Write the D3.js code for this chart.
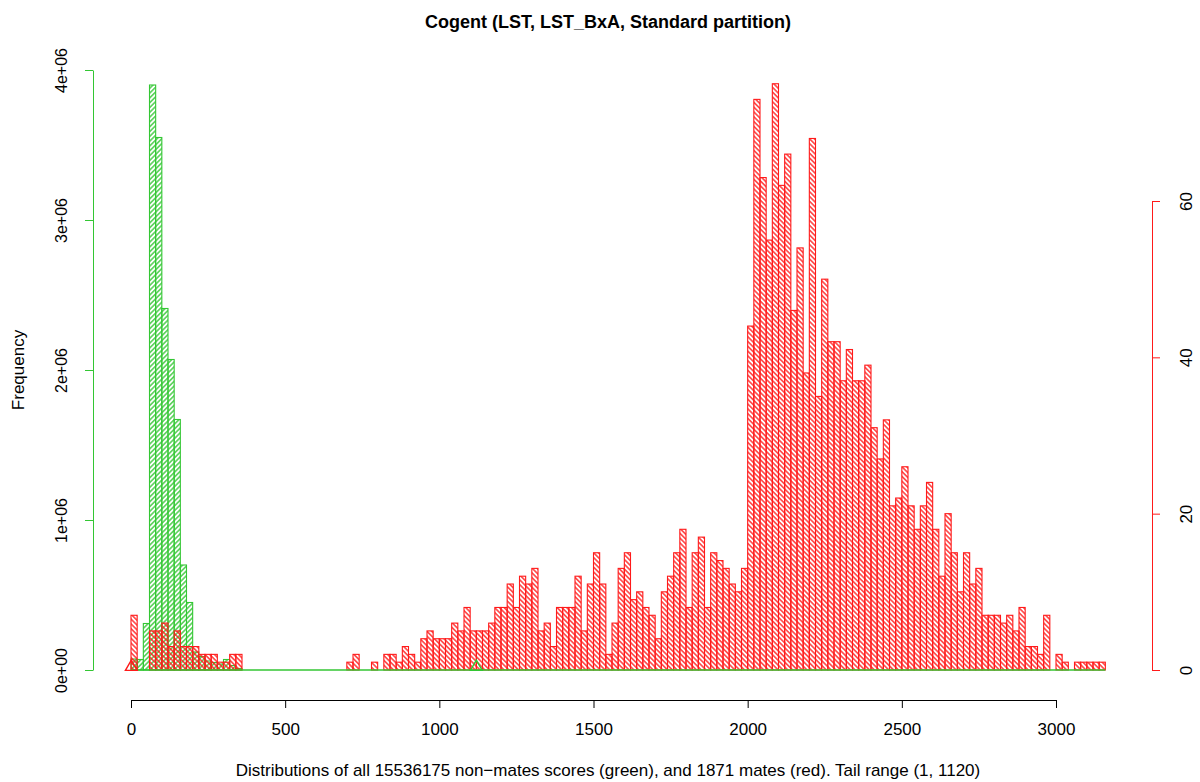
<!DOCTYPE html>
<html><head><meta charset="utf-8">
<script src="https://cdn.jsdelivr.net/npm/d3@7"></script>
<style>
body{margin:0;background:#fff}
text{font-family:"Liberation Sans",Arial,Helvetica,sans-serif}
</style>
</head><body>
<svg id="chart" width="1200" height="782"></svg>
<script>
// ---- data ----
const binWidth = 20;
// non-mates (green), counts per 20-unit bin starting at 0
const greenCounts = [73000, 70000, 310000, 3900000, 3550000, 2410000, 2070000, 1670000, 700000, 450000,
  120000, 90000, 60000, 50000, 40000, 70000, 30000, 10000];
const greenRangeMax = 3160;
// mates (red), counts per 20-unit bin starting at 0
const redCounts = [
  7,0,0,5,5,6,3,5,3,3,
  3,2,2,2,1,1,2,2,0,0,
  0,0,0,0,0,0,0,0,0,0,
  0,0,0,0,0,1,2,0,0,1,
  0,2,2,1,3,2,1,4,5,4,
  4,4,6,5,8,5,5,5,6,8,
  8,11,8,12,11,13,5,6,3,8,
  8,8,12,5,11,15,11,2,6,13,
  15,9,10,8,7,4,10,12,15,18,
  8,15,17,8,15,14,13,11,10,13,
  44,73,63,55,75,62,66,46,54,38,
  68,35,50,42,42,37,41,37,37,39,
  31,27,32,21,22,26,21,18,21,24,
  18,12,20,15,10,15,11,13,7,7,
  7,6,7,5,8,3,3,2,7,0,
  2,1,0,1,1,1,1,1];
const xTicks = [0, 500, 1000, 1500, 2000, 2500, 3000];
const leftTicks = [0, 1e6, 2e6, 3e6, 4e6];
const leftTickLabels = ["0e+00", "1e+06", "2e+06", "3e+06", "4e+06"];
const rightTicks = [0, 20, 40, 60];
const redTailMark = [1];
const greenTailMark = [1120];
const title = "Cogent (LST, LST_BxA, Standard partition)";
const xLabel = "Distributions of all 15536175 non\u2212mates scores (green), and 1871 mates (red). Tail range (1, 1120)";
const yLabel = "Frequency";

// ---- drawing ----
const RED = "#ff1a1a", GREEN = "#33c633";
const FS = 17;
const svg = d3.select("#chart");
const x = d3.scaleLinear().domain([0, 3000]).range([131, 1056]);
const yL = d3.scaleLinear().domain([0, 4e6]).range([670, 70]);
const yR = d3.scaleLinear().domain([0, 60]).range([670, 201]);

const defs = svg.append("defs");
function hatch(id, color, angle) {
  const p = defs.append("pattern").attr("id", id).attr("patternUnits", "userSpaceOnUse")
    .attr("width", 3.4).attr("height", 3.4).attr("patternTransform", `rotate(${angle})`);
  p.append("line").attr("x1", 0).attr("x2", 3.4).attr("y1", 1.7).attr("y2", 1.7)
    .attr("stroke", color).attr("stroke-width", 1.3);
}
hatch("hRed", RED, 45);
hatch("hGreen", GREEN, -45);

const greenBins = greenCounts.map((c, i) => ({x0: i * binWidth, x1: (i + 1) * binWidth, c}));
const redBins = redCounts.map((c, i) => ({x0: i * binWidth, x1: (i + 1) * binWidth, c}));

svg.append("g").selectAll("rect").data(greenBins.filter(d => yL(0) - yL(d.c) > 0.8)).join("rect")
  .attr("x", d => x(d.x0)).attr("width", d => x(d.x1) - x(d.x0))
  .attr("y", d => yL(d.c)).attr("height", d => yL(0) - yL(d.c))
  .attr("fill", "url(#hGreen)").attr("stroke", GREEN).attr("stroke-width", 1.1);

svg.append("g").selectAll("rect").data(redBins.filter(d => d.c > 0)).join("rect")
  .attr("x", d => x(d.x0)).attr("width", d => x(d.x1) - x(d.x0))
  .attr("y", d => yR(d.c)).attr("height", d => yR(0) - yR(d.c))
  .attr("fill", "url(#hRed)").attr("stroke", RED).attr("stroke-width", 1.1);

// baseline of green histogram (zero bins)
svg.append("line").attr("x1", x(0)).attr("x2", x(greenRangeMax)).attr("y1", yL(0)).attr("y2", yL(0))
  .attr("stroke", GREEN).attr("stroke-width", 1.5);

// tail markers (open triangles)
const tri = d3.symbol().type(d3.symbolTriangle).size(60);
svg.append("g").selectAll("path").data(redTailMark).join("path")
  .attr("d", tri).attr("transform", d => `translate(${x(d)},${yL(0) - 3})`)
  .attr("fill", "none").attr("stroke", RED).attr("stroke-width", 1.4);
svg.append("g").selectAll("path").data(greenTailMark).join("path")
  .attr("d", tri).attr("transform", d => `translate(${x(d)},${yL(0) - 3})`)
  .attr("fill", "none").attr("stroke", GREEN).attr("stroke-width", 1.4);

// x axis
const gx = svg.append("g").attr("transform", "translate(0,700)")
  .call(d3.axisBottom(x).tickValues(xTicks).tickSize(8).tickSizeOuter(0).tickFormat(d3.format("d")));
gx.select(".domain").attr("stroke", "#000");
gx.selectAll(".tick line").attr("stroke", "#000");
gx.selectAll(".tick text").attr("font-size", FS).attr("fill", "#000").attr("y", 23).attr("dy", "0.71em")
  .style("font-family", "'Liberation Sans',Arial,sans-serif");

// left axis
const gl = svg.append("g").attr("transform", "translate(93,0)")
  .call(d3.axisLeft(yL).tickValues(leftTicks).tickSize(8).tickSizeOuter(0).tickFormat((d, i) => leftTickLabels[i]));
gl.select(".domain").attr("stroke", GREEN);
gl.selectAll(".tick line").attr("stroke", GREEN);
gl.selectAll(".tick text").attr("font-size", FS - 1).attr("fill", "#000")
  .attr("transform", "rotate(-90)").attr("x", 0).attr("y", -26).attr("dy", 0)
  .attr("text-anchor", "middle").style("font-family", "'Liberation Sans',Arial,sans-serif");

// right axis
const gr = svg.append("g").attr("transform", "translate(1152,0)")
  .call(d3.axisRight(yR).tickValues(rightTicks).tickSize(8).tickSizeOuter(0).tickFormat(d3.format("d")));
gr.select(".domain").attr("stroke", RED);
gr.selectAll(".tick line").attr("stroke", RED);
gr.selectAll(".tick text").attr("font-size", FS).attr("fill", "#000")
  .attr("transform", "rotate(-90)").attr("x", 0).attr("y", 40).attr("dy", 0)
  .attr("text-anchor", "middle").style("font-family", "'Liberation Sans',Arial,sans-serif");

// titles
svg.append("text").attr("x", 608).attr("y", 28).attr("text-anchor", "middle")
  .attr("font-size", 18).attr("font-weight", "bold").text(title);
svg.append("text").attr("x", 608).attr("y", 776).attr("text-anchor", "middle")
  .attr("font-size", FS).text(xLabel);
svg.append("text").attr("transform", "translate(24,370) rotate(-90)").attr("text-anchor", "middle")
  .attr("font-size", FS).text(yLabel);
</script>
</body></html>
